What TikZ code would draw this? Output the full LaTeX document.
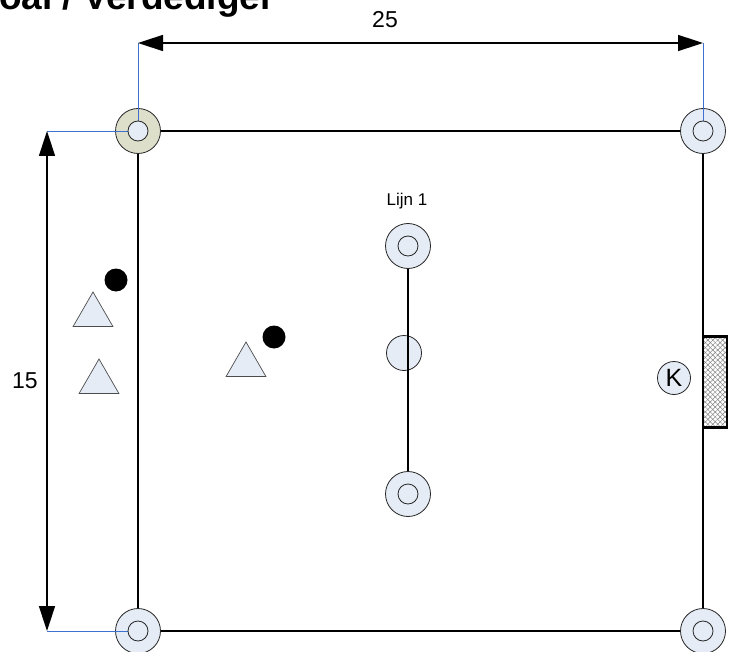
\documentclass[tikz,border=0pt]{standalone}
\usepackage{fontspec}
\setmainfont{Liberation Sans}
\usetikzlibrary{arrows.meta,patterns.meta,shapes.geometric}
\definecolor{lb}{HTML}{E6ECF6}
\definecolor{olivec}{HTML}{DEDFCB}
\definecolor{dimblue}{HTML}{3F72D0}
\begin{document}
\begin{tikzpicture}[x=1pt,y=-1pt,
  outer/.style={circle,draw=black!85,fill=lb,line width=0.8pt,minimum size=45pt,inner sep=0pt},
  inner/.style={circle,draw=black!85,fill=lb,line width=0.8pt,minimum size=20pt,inner sep=0pt},
  single/.style={circle,draw=black!85,fill=lb,line width=0.8pt,minimum size=35pt,inner sep=0pt},
  player/.style={regular polygon,regular polygon sides=3,draw=black!70,fill=lb,line width=0.7pt,minimum size=46pt,inner sep=0pt},
  ball/.style={circle,fill=black,minimum size=23pt,inner sep=0pt},
  fieldline/.style={line width=1.5pt,black},
  dimline/.style={line width=1.5pt,black,{Triangle[length=25pt,width=16pt]}-{Triangle[length=25pt,width=16pt]}},
  extline/.style={line width=0.9pt,dimblue},
  lbl/.style={font=\fontsize{23}{26}\selectfont}]
\useasboundingbox (0,0) rectangle (730,652);
% title (cut off at the page edge, as in the reference)
\node[anchor=base east,inner sep=0pt,font=\bfseries\fontsize{37}{40}\selectfont] (title) at (275,10) {Goal / Verdediger};
% corner markers
\node[outer,fill=olivec] (tlO) at (138,131) {};
\node[outer] (trO) at (703,131) {};
\node[outer] (blO) at (138,631) {};
\node[outer] (brO) at (703,631) {};
% dimension coordinates
\coordinate (dimTL) at (138,43);
\coordinate (dimTR) at (703,43);
\coordinate (dimLT) at (47,131);
\coordinate (dimLB) at (47,631);
% blue extension lines
\draw[extline] (tlO.center) -- (dimTL);
\draw[extline] (trO.center) -- (dimTR);
\draw[extline] (tlO.center) -- (dimLT);
\draw[extline] (blO.center) -- (dimLB);
\node[inner] (tlI) at (138,131) {};
\node[inner] (trI) at (703,131) {};
\node[inner] (blI) at (138,631) {};
\node[inner] (brI) at (703,631) {};
% field lines
\draw[fieldline] (tlO) -- (trO);
\draw[fieldline] (blO) -- (brO);
\draw[fieldline] (tlO) -- (blO);
\draw[fieldline] (trO) -- (brO);
% dimension arrows
\draw[dimline] (dimTL) -- (dimTR);
\draw[dimline] (dimLT) -- (dimLB);
\node[lbl] (l25) at (385,20) {25};
\node[lbl] (l15) at (25,381) {15};
% Lijn 1
\node[outer] (L1) at (408,246) {};
\node[inner] (L1i) at (408,246) {};
\node[single] (L2) at (404,353) {};
\node[outer] (L3) at (408,494) {};
\node[inner] (L3i) at (408,494) {};
\draw[fieldline] (L1) -- (L3);
\node[font=\fontsize{17}{20}\selectfont] (lijn) at (407,201) {Lijn 1};
% players and balls
\node[player] (p1) at (93,315) {};
\node[player] (p2) at (99,382) {};
\node[player] (p3) at (246,365) {};
\node[ball] (b1) at (116,280) {};
\node[ball] (b2) at (274,337) {};
% keeper and goal
\node[circle,draw=black!85,fill=lb,line width=0.8pt,minimum size=33pt,inner sep=0pt,font=\fontsize{25}{28}\selectfont] (K) at (674,378) {K};
\node[rectangle,draw=black,line width=2.5pt,minimum width=24pt,minimum height=91pt,inner sep=0pt,
  pattern={Lines[angle=45,distance=3.5pt,line width=0.5pt]},pattern color=black!50,
  preaction={pattern={Lines[angle=-45,distance=3.5pt,line width=0.5pt]},pattern color=black!50}] (goal) at (715,382) {};
\end{tikzpicture}
\end{document}
